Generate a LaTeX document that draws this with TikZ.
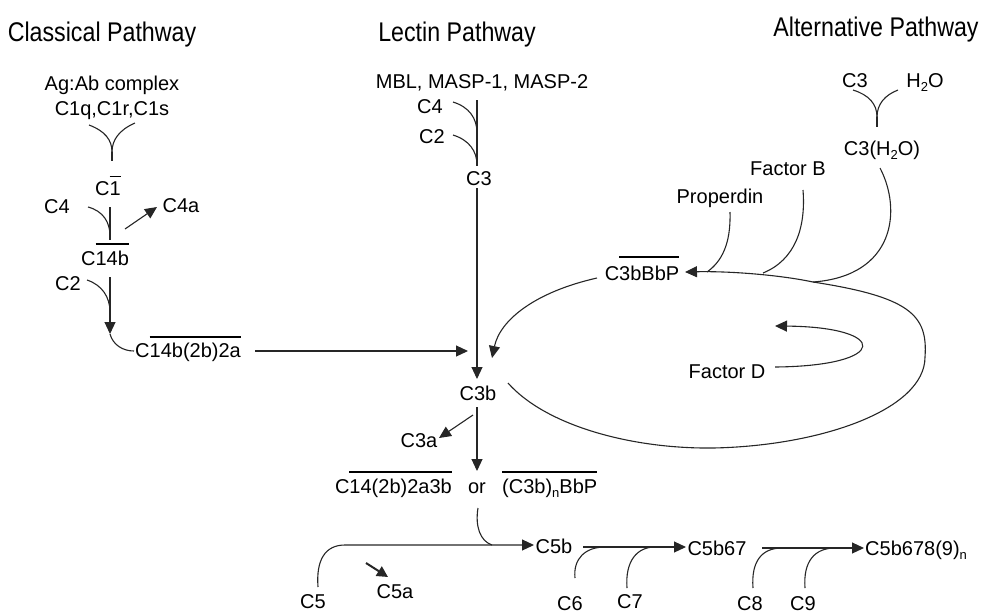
\documentclass[tikz,border=0pt]{standalone}
\usepackage{fontspec}
\setmainfont{Liberation Sans}
\newfontfamily\titlefont[FakeStretch=0.86]{Liberation Sans}
\usetikzlibrary{arrows.meta}
\newcommand\ob[2][4pt]{\vbox{\hrule height 1.1pt\kern#1\hbox{#2}}}
\newcommand\sub[1]{\raisebox{-4pt}{\fontsize{13}{13}\selectfont #1}}
\begin{document}
\begin{tikzpicture}[x=1pt,y=-1pt,
  lbl/.style={inner sep=0pt, anchor=base, font=\fontsize{20}{24}\selectfont},
  ttl/.style={inner sep=0pt, anchor=base, font=\titlefont\fontsize{27}{30}\selectfont},
  ln/.style={line width=1.1pt, draw=black!85},
  arr/.style={ln, -{Triangle[length=12pt,width=11pt]}},
  thickarr/.style={line width=2pt, draw=black!85, -{Triangle[length=11pt,width=11pt]}}
]
\useasboundingbox (0,0) rectangle (996,614);
% titles
\node[ttl] (tcl) at (102,41) {Classical Pathway};
\node[ttl] (tle) at (457,41) {Lectin Pathway};
\node[ttl] (tal) at (876,36) {Alternative Pathway};
% classical labels
\node[lbl] (agab) at (112,90) {Ag:Ab complex};
\node[lbl] (c1qrs) at (112,115) {C1q,C1r,C1s};
\node[lbl] (c1) at (108,195) {C\ob{1}};
\node[lbl] (c4c) at (57,213) {C4};
\node[lbl] (c4a) at (181,212) {C4a};
\node[lbl] (c14b) at (105,265) {C\ob[6pt]{14b}};
\node[lbl] (c2c) at (68,290) {C2};
\node[lbl,anchor=base west] (c14b2a) at (135,357) {C\ob[5pt]{14b(2b)2a}};
% lectin labels
\node[lbl] (mbl) at (482,88) {MBL, MASP-1, MASP-2};
\node[lbl] (c4l) at (430,113) {C4};
\node[lbl] (c2l) at (432,143) {C2};
\node[lbl] (c3l) at (479,185) {C3};
\node[lbl] (c3b) at (478,400) {C3b};
\node[lbl] (c3a) at (419,447) {C3a};
\node[lbl,anchor=base east] (cc1) at (452,493) {C\ob[6pt]{14(2b)2a3b}};
\node[lbl] (or) at (477,493) {or};
\node[lbl,anchor=base west] (cc2) at (502,493) {\ob[6pt]{(C3b)\sub{n}BbP}};
% alternative labels
\node[lbl] (c3t) at (855,87) {C3};
\node[lbl] (h2o) at (925,87) {H\sub{2}O};
\node[lbl] (c3h) at (882,155) {C3(H\sub{2}O)};
\node[lbl] (fb) at (788,175) {Factor B};
\node[lbl] (prop) at (720,203) {Properdin};
\node[lbl] (cbbp) at (642,280) {C\ob[8pt]{3bBbP}};
\node[lbl] (fd) at (727,378) {Factor D};
% terminal labels
\node[lbl] (c5) at (313,608) {C5};
\node[lbl] (c5a) at (395,598) {C5a};
\node[lbl] (c5b) at (554,553) {C5b};
\node[lbl] (c6) at (570,610) {C6};
\node[lbl] (c7) at (630,608) {C7};
\node[lbl] (c5b67) at (717,555) {C5b67};
\node[lbl] (c8) at (750,610) {C8};
\node[lbl] (c9) at (803,610) {C9};
\node[lbl,anchor=base west] (mac) at (865,555) {C5b678(9)\sub{n}};

% ---- classical connectors
\coordinate (fk1) at (112,152);
\coordinate (fk1l) at (89,125);
\coordinate (fk1r) at (135,123);
\coordinate (fk1e) at (112,161);
\draw[ln] (fk1l) .. controls (105,131) and (112,140) .. (fk1);
\draw[ln] (fk1r) .. controls (119,130) and (112,140) .. (fk1);
\draw[ln] (fk1) -- (fk1e);
\coordinate (v1a) at (110,207);
\coordinate (v1b) at (110,240);
\coordinate (c4s) at (88,207);
\draw[ln] (v1a) -- (v1b);
\draw[ln] (c4s) .. controls (103,211) and (110,222) .. (110,236);
\coordinate (c4at) at (125,229);
\draw[arr] (c4at) -- (157,207);
\coordinate (v2a) at (110,277);
\coordinate (v2b) at (110,334);
\coordinate (c2s) at (87,280);
\draw[ln] (c2s) .. controls (102,285) and (110,297) .. (110,312);
\draw[arr] (v2a) -- (v2b);
\draw[ln] (v2b) .. controls (113,345) and (123,351) .. (134,351);
\coordinate (h1a) at (255,351);
\coordinate (h1b) at (468,351);
\draw[arr] (h1a) -- (h1b);

% ---- lectin connectors
\coordinate (l1a) at (477,100);
\coordinate (l1b) at (477,166);
\draw[ln] (l1a) -- (l1b);
\draw[ln] (453,102) .. controls (469,107) and (477,118) .. (477,133);
\draw[ln] (453,135) .. controls (469,140) and (477,151) .. (477,165);
\coordinate (l2a) at (477,188);
\coordinate (l2b) at (477,379);
\draw[arr] (l2a) -- (l2b);
\coordinate (l3a) at (473,415);
\coordinate (l3b) at (439,438);
\draw[arr] (l3a) -- (l3b);
\coordinate (l4a) at (477,407);
\coordinate (l4b) at (477,471);
\draw[arr] (l4a) -- (l4b);

% ---- alternative connectors
\coordinate (fk2) at (877,117);
\draw[ln] (853,90) .. controls (869,95) and (877,104) .. (fk2);
\draw[ln] (898,90) .. controls (885,95) and (877,104) .. (fk2);
\draw[ln] (fk2) -- (877,127);
\draw[ln] (730,212) .. controls (731,245) and (721,262) .. (707,272);
\draw[ln] (803,190) .. controls (806,228) and (795,260) .. (763,273);
\draw[ln] (880,168) .. controls (902,210) and (895,276) .. (813,282);
\coordinate (lp0) at (508,383);
\coordinate (lp1) at (713,448);
\coordinate (lp2) at (925,357);
\coordinate (lp3) at (813,282);
\coordinate (lp4) at (685,272);
\draw[arr] (lp0) .. controls (545,425) and (630,449) .. (lp1)
  .. controls (820,446) and (925,410) .. (lp2)
  .. controls (928,315) and (910,297) .. (lp3)
  .. controls (780,275) and (730,271) .. (lp4);
\draw[arr] (597,278) .. controls (535,292) and (500,320) .. (492,358);
\draw[arr] (775,367) .. controls (890,366) and (890,327) .. (775,326);

% ---- terminal pathway
\draw[ln] (478,508) .. controls (475,526) and (480,541) .. (492,545);
\draw[arr] (318,587) .. controls (316,560) and (325,545) .. (345,545) -- (534,545);
\draw[thickarr] (366,563) -- (388,577);
\draw[arr] (583,547) -- (686,547);
\draw[ln] (575,578) .. controls (573,559) and (585,547) .. (605,547);
\draw[ln] (627,588) .. controls (625,561) and (637,547) .. (655,547);
\draw[arr] (762,548) -- (864,548);
\draw[ln] (753,588) .. controls (751,561) and (762,548) .. (782,548);
\draw[ln] (805,588) .. controls (803,561) and (815,548) .. (835,548);
\end{tikzpicture}
\end{document}
